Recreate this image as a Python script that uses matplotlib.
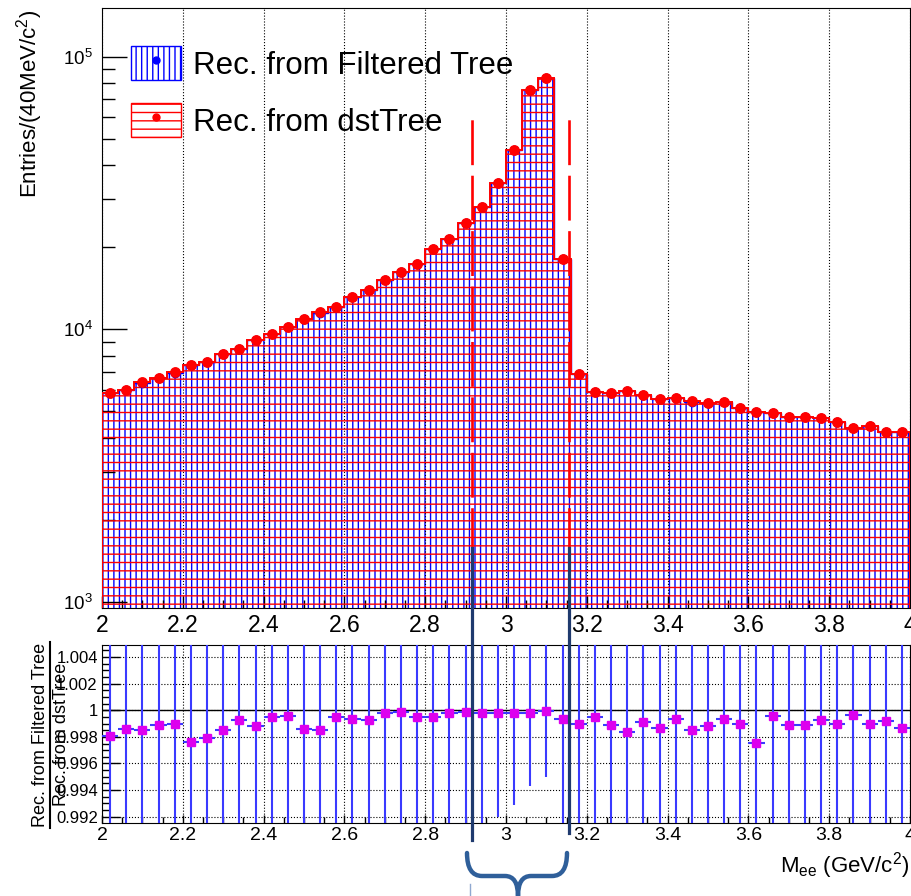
"""Di-electron mass spectrum: filtered tree vs dstTree, with ratio panel."""

import matplotlib

matplotlib.use("Agg")
import matplotlib.pyplot as plt
import matplotlib.transforms as mtransforms
import numpy as np
from matplotlib.lines import Line2D
from matplotlib.patches import Patch, PathPatch
from matplotlib.path import Path
from matplotlib.ticker import FuncFormatter, LogLocator, MultipleLocator, NullFormatter

plt.rcParams["font.family"] = ["Liberation Sans", "DejaVu Sans"]
plt.rcParams["mathtext.fontset"] = "custom"
plt.rcParams["mathtext.rm"] = "Liberation Sans"
plt.rcParams["mathtext.it"] = "Liberation Sans:italic"
plt.rcParams["mathtext.bf"] = "Liberation Sans:bold"
plt.rcParams["hatch.linewidth"] = 1.0

# ---- data ----
x_min, x_max, n_bins = 2.0, 4.0, 50

dst_counts = [5850, 5990, 6390, 6650, 6950, 7400, 7590, 8140, 8490, 9160,
              9590, 10220, 10910, 11540, 12070, 13140, 13970, 15170, 16190, 17400,
              19710, 21490, 24600, 28180, 34320, 45470, 75290, 83750, 18110, 6860,
              5900, 5850, 5940, 5740, 5550, 5600, 5440, 5370, 5430, 5130,
              4990, 4920, 4780, 4780, 4720, 4570, 4360, 4430, 4200, 4200]

# Filtered / dst ratio per bin
ratio = [0.99810, 0.99860, 0.99851, 0.99890, 0.99900, 0.99763, 0.99793, 0.99851, 0.99925, 0.99883,
         0.99948, 0.99960, 0.99860, 0.99851, 0.99948, 0.99937, 0.99928, 0.99978, 0.99985, 0.99948,
         0.99948, 0.99978, 0.99985, 0.99978, 0.99978, 0.99978, 0.99978, 0.99997, 0.99937, 0.99900,
         0.99950, 0.99890, 0.99833, 0.99910, 0.99870, 0.99937, 0.99851, 0.99881, 0.99937, 0.99900,
         0.99754, 0.99957, 0.99890, 0.99890, 0.99928, 0.99900, 0.99965, 0.99900, 0.99918, 0.99870]

ratio_err = [0.0185, 0.0183, 0.0177, 0.0173, 0.0170, 0.0164, 0.0162, 0.0157, 0.0153, 0.0148,
             0.0144, 0.0140, 0.0135, 0.0132, 0.0129, 0.0123, 0.0120, 0.0115, 0.0111, 0.0107,
             0.0101, 0.0096, 0.0090, 0.0085, 0.0078, 0.0069, 0.0055, 0.0050, 0.0105, 0.0171,
             0.0184, 0.0185, 0.0184, 0.0187, 0.0190, 0.0189, 0.0192, 0.0193, 0.0192, 0.0197,
             0.0200, 0.0202, 0.0205, 0.0205, 0.0206, 0.0209, 0.0214, 0.0212, 0.0218, 0.0218]

cut_lo, cut_hi = 2.916, 3.156
cut_top = 6.0e4
y_min, y_max = 950, 1.51e5
r_min, r_max = 0.99153, 1.0049

edges = np.linspace(x_min, x_max, n_bins + 1)
centers = 0.5 * (edges[:-1] + edges[1:])
half_w = 0.5 * (edges[1] - edges[0])
dst = np.array(dst_counts, dtype=float)
filt = dst * np.array(ratio)

W, H = 911, 896
fig = plt.figure(figsize=(W / 100, H / 100), dpi=100)

ax1 = fig.add_axes([102 / W, 1 - 608 / H, 808 / W, 600 / H])
ax2 = fig.add_axes([102 / W, 1 - 823 / H, 808 / W, 178 / H])

# ---- upper panel ----
ax1.stairs(filt, edges, baseline=y_min, fill=True, facecolor="none",
           edgecolor="blue", hatch="|||", lw=1.0, zorder=2)
ax1.stairs(dst, edges, baseline=y_min, fill=True, facecolor="none",
           edgecolor="red", hatch="--", lw=1.4, zorder=3)
ax1.plot(centers, filt, "o", color="blue", ms=6, zorder=4)
ax1.plot(centers, dst, "o", color="red", ms=6.8, zorder=5)
for xc in (cut_lo, cut_hi):
    ax1.plot([xc, xc], [y_min, cut_top], color="red", lw=1.9,
             ls=(0, (17, 4)), zorder=6)

ax1.set_yscale("log")
ax1.set_xlim(x_min, x_max)
ax1.set_ylim(y_min, y_max)
ax1.set_axisbelow(False)
ax1.grid(axis="x", which="major", ls=":", color="black", lw=0.8)
ax1.xaxis.set_major_locator(MultipleLocator(0.2))
ax1.xaxis.set_minor_locator(MultipleLocator(0.05))
ax1.xaxis.set_major_formatter(FuncFormatter(lambda v, _: f"{v:g}"))
ax1.yaxis.set_major_locator(LogLocator(base=10))
ax1.yaxis.set_minor_locator(LogLocator(base=10, subs=np.arange(2, 10)))
ax1.yaxis.set_minor_formatter(NullFormatter())
ax1.tick_params(which="both", direction="in", top=False, right=False, width=1)
ax1.tick_params(axis="x", which="major", length=9, labelsize=16.5, pad=4)
ax1.tick_params(axis="x", which="minor", length=5.5)
ax1.tick_params(axis="y", which="major", length=18, labelsize=13.5, pad=6.5)
ax1.tick_params(axis="y", which="minor", length=9)

legend_handles = [
    (Patch(facecolor="none", edgecolor="blue", hatch="|||", lw=1.0),
     Line2D([], [], marker="o", color="blue", ls="none", ms=5)),
    (Patch(facecolor="none", edgecolor="red", hatch="--", lw=1.0),
     Line2D([], [], marker="o", color="red", ls="none", ms=5)),
]
ax1.legend(legend_handles, ["Rec. from Filtered Tree", "Rec. from dstTree"],
           loc="upper left", bbox_to_anchor=(29 / 808, 1 - 38 / 600),
           frameon=False, fontsize=22.5, borderpad=0, borderaxespad=0,
           handlelength=1.6, handleheight=1.3, handletextpad=0.38,
           labelspacing=0.72)

fig.text(30 / W, 1 - 10 / H, r"Entries/(40MeV/c$^{2}$)", rotation=90,
         ha="center", va="top", fontsize=16)

# ---- ratio panel ----
ax2.axhline(1.0, color="black", lw=1.0, zorder=2)
ax2.errorbar(centers, ratio, yerr=ratio_err, xerr=half_w, fmt="s", ms=6,
             mfc="#dd00ee", mec="#dd00ee", ecolor="#3a3aff", elinewidth=1.5,
             capsize=0, zorder=3)
ax2.set_xlim(x_min, x_max)
ax2.set_ylim(r_min, r_max)
ax2.grid(which="major", ls=":", color="black", lw=0.8)
ax2.xaxis.set_major_locator(MultipleLocator(0.2))
ax2.xaxis.set_minor_locator(MultipleLocator(0.05))
ax2.xaxis.set_major_formatter(FuncFormatter(lambda v, _: f"{v:g}"))
ax2.yaxis.set_major_locator(MultipleLocator(0.002))
ax2.yaxis.set_minor_locator(MultipleLocator(0.0005))
ax2.yaxis.set_major_formatter(FuncFormatter(lambda v, _: f"{v:.6g}"))
ax2.tick_params(which="both", direction="in", top=False, right=False, width=1)
ax2.tick_params(axis="x", which="major", length=6, labelsize=14, pad=3)
ax2.tick_params(axis="x", which="minor", length=4)
ax2.tick_params(axis="y", which="major", length=13, labelsize=12, pad=3)
ax2.tick_params(axis="y", which="minor", length=6)

fig.text(910 / W, 1 - 866 / H, r"M$_{\mathrm{ee}}$ (GeV/c$^{2}$)", ha="right",
         va="center", fontsize=16)

# stacked ratio label: numerator / bar / denominator
fig.text(41 / W, 1 - 735 / H, "Rec. from Filtered Tree", rotation=90,
         ha="center", va="center", fontsize=13)
fig.text(62 / W, 1 - 734 / H, "Rec. from dstTree", rotation=90,
         ha="center", va="center", fontsize=13)
fig.add_artist(Line2D([50 / W, 50 / W], [1 - 642 / H, 1 - 828 / H],
                      color="black", lw=1.5))

# ---- slide overlay: window markers and brace ----
blend = mtransforms.blended_transform_factory(ax1.transData, fig.transFigure)
for xc, y_end in ((cut_lo, 840), (cut_hi, 833)):
    fig.add_artist(Line2D([xc, xc], [1 - 548 / H, 1 - y_end / H],
                          transform=blend, color="#1f3a6e", lw=2.3, zorder=10))

pix = mtransforms.Affine2D().scale(1 / W, -1 / H).translate(0, 1) + fig.transFigure
brace_verts = [(467, 853), (467, 876), (482, 876), (505, 876), (518, 876),
               (518, 896), (518, 876), (531, 876), (552, 876), (567, 876),
               (567, 853)]
brace_codes = [Path.MOVETO, Path.CURVE3, Path.CURVE3, Path.LINETO,
               Path.CURVE3, Path.CURVE3, Path.CURVE3, Path.CURVE3,
               Path.LINETO, Path.CURVE3, Path.CURVE3]
fig.add_artist(PathPatch(Path(brace_verts, brace_codes), transform=pix,
                         facecolor="none", edgecolor="#2f5f9a", lw=3.2,
                         capstyle="round", zorder=10))
fig.add_artist(Line2D([470, 470], [884, 896], transform=pix,
                      color="#8fa8d0", lw=1.0, zorder=10))

fig.savefig("out.png", dpi=100)
plt.close(fig)
